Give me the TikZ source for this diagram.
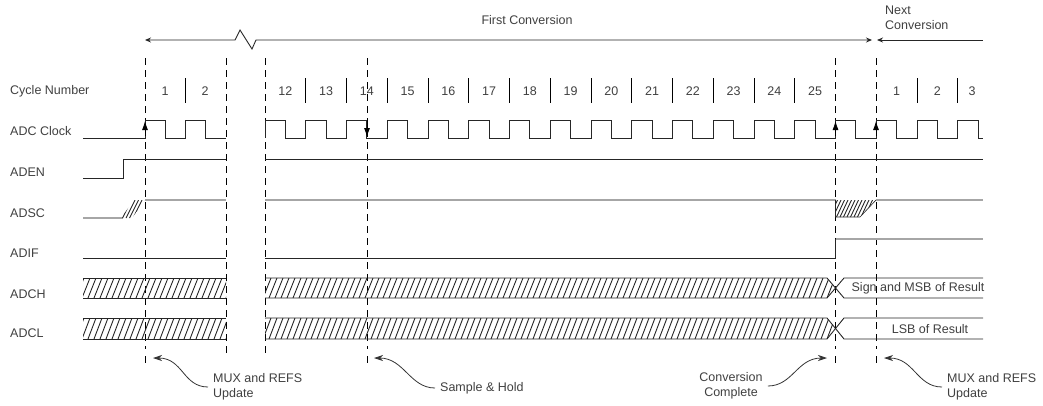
\documentclass[tikz,border=0pt]{standalone}
\usepackage{fontspec}
\setmainfont{Liberation Sans}
\usetikzlibrary{arrows.meta}

\tikzset{
  lbl/.style={anchor=west, inner sep=0pt, text=black!75},
  num/.style={inner sep=0pt, text=black!75},
  sig/.style={line width=0.9pt, black!85},
  graysig/.style={line width=1.4pt, black!35},
  guide/.style={dash pattern=on 7pt off 5pt, line width=0.9pt},
  tick/.style={line width=1pt},
  hatch/.style={line width=0.9pt, black!85},
  note/.style={-{Stealth[length=9pt,width=6pt]}, line width=0.8pt, black!80, shorten <=5pt},
}

\begin{document}
\begin{tikzpicture}[x=1pt, y=-1pt, every node/.style={font=\fontsize{12.5}{15}\selectfont}]
\useasboundingbox (0,0) rectangle (1043,405);

% row labels
\node[lbl] (cycle) at (10,91) {Cycle Number};
\node[lbl] (clk)   at (10,131) {ADC Clock};
\node[lbl] (aden)  at (10,172) {ADEN};
\node[lbl] (adsc)  at (10,213) {ADSC};
\node[lbl] (adif)  at (10,253) {ADIF};
\node[lbl] (adch)  at (10,294) {ADCH};
\node[lbl] (adcl)  at (10,333) {ADCL};

% conversion span
\node[num] (first) at (527,20) {First Conversion};
\node[lbl, align=left] (next) at (885,18) {Next\\Conversion};
\coordinate (fc0) at (145,40);
\coordinate (fc1) at (872,40);
\coordinate (nc0) at (877,40);
\coordinate (nc1) at (983,40);
\draw[sig, {Stealth[length=6pt,width=5pt]}-{Stealth[length=6pt,width=5pt]}]
  (fc0) -- (235,40) -- (240,30) -- (252,49) -- (256,40) -- (fc1);
\draw[sig, {Stealth[length=6pt,width=5pt]}-] (nc0) -- (nc1);

% cycle numbers
\node[num] (a1) at (165,91) {1};
\node[num] (a2) at (205,91) {2};
\foreach \n [count=\k from 0] in {12,...,25}
  \node[num] (c\n) at ({265+40.75*(\k+0.5)},91) {\n};
\node[num] (b1) at ({265+40.75*15.5},91) {1};
\node[num] (b2) at ({265+40.75*16.5},91) {2};
\node[num] (b3) at (972,91) {3};
\draw[tick] (185.5,78) -- ++(0,25);
\foreach \k in {1,...,13,16,17}
  \draw[tick] ({265+40.75*\k},78) -- ++(0,25);

% guide lines
\foreach \x in {145,367,835.5,876} {
  \draw[guide] (\x,58) -- (\x,349);
  \draw[tick] (\x,356) -- (\x,363);
}
\foreach \x in {226,265}
  \draw[guide] (\x,58) -- (\x,356);

% ADC clock
\draw[sig] (83,138) -- (145,138) -- ++(0,-18) -- ++(20,0) -- ++(0,18) -- ++(20.5,0)
  -- ++(0,-18) -- ++(20,0) -- ++(0,18) -- (226,138);
\draw[sig] (265,138) \foreach \k in {1,...,17} { -- ++(0,-18) -- ++(20.375,0) -- ++(0,18) -- ++(20.375,0) }
  -- ++(0,-18) -- ++(20.375,0) -- ++(0,18) -- (983,138);
\foreach \x in {145,835.5,876}
  \draw[-{Latex[length=9pt,width=6pt]}, line width=0.8pt] (\x,136) -- (\x,121);
\draw[-{Latex[length=9pt,width=6pt]}, line width=0.8pt] (367,122) -- (367,137);

% ADEN
\draw[sig] (83,178) -- (123,178) -- (123,159) -- (226,159);
\draw[sig] (265,159) -- (983,159);

% ADSC
\draw[graysig] (83,218) -- (123,218);
\begin{scope}
  \clip (121,218) -- (132,218) -- (145,200) -- (134,200) -- cycle;
  \foreach \h in {112,115.5,...,147} \draw[hatch] (\h,218) -- (\h+9,200);
\end{scope}
\draw[graysig] (145,200) -- (226,200);
\draw[graysig] (265,200) -- (835.5,200);
\begin{scope}
  \clip (835.5,200) -- (835.5,217) -- (860,217) -- (876,200) -- cycle;
  \foreach \h in {826,829.5,...,880} \draw[hatch] (\h,217) -- (\h+8,200);
\end{scope}
\draw[sig, line width=0.6pt] (835.5,200) -- (835.5,217) -- (860,217) -- (876,200);
\draw[graysig] (876,200) -- (983,200);

% ADIF
\draw[sig] (83,258) -- (226,258);
\draw[sig] (265,258) -- (835.5,258) -- (835.5,239);
\draw[graysig] (835.5,239) -- (983,239);

% ADCH and ADCL
\foreach \t/\b in {278/298, 318/339} {
  \begin{scope}
    \clip (83,\t) rectangle (226,\b);
    \foreach \h in {76,82,...,230} \draw[hatch] (\h,\b) -- (\h+8,\t);
  \end{scope}
  \draw[sig] (83,\t) -- (226,\t) (83,\b) -- (226,\b);
  \begin{scope}
    \clip (265,\t) -- (827,\t) -- (835.5,{(\t+\b)/2}) -- (827,\b) -- (265,\b) -- cycle;
    \foreach \h in {257,263,...,838} \draw[hatch] (\h,\b) -- (\h+8,\t);
  \end{scope}
  \draw[sig] (265,\t) -- (827,\t) -- (844,\b) -- (983,\b);
  \draw[sig] (265,\b) -- (827,\b) -- (844,\t) -- (983,\t);
}
\node[num] (msb) at (918,288) {Sign and MSB of Result};
\node[num] (lsb) at (930,329) {LSB of Result};

% event notes
\coordinate (p1) at (153,358);
\coordinate (p2) at (374,358);
\coordinate (p3) at (827,358);
\coordinate (p4) at (884,358);
\node[lbl, align=left] (mux1) at (213,387) {MUX and REFS\\Update};
\node[lbl] (samp) at (440,388) {Sample \& Hold};
\node[num, align=center] (conv) at (731,386) {Conversion\\Complete};
\node[lbl, align=left] (mux2) at (947,387) {MUX and REFS\\Update};
\draw[note] (mux1.west) .. controls +(-30,0) and +(30,0) .. (p1);
\draw[note] (samp.west) .. controls +(-30,0) and +(30,0) .. (p2);
\draw[note] (conv.east) .. controls +(30,0) and +(-30,0) .. (p3);
\draw[note] (mux2.west) .. controls +(-30,0) and +(30,0) .. (p4);
\end{tikzpicture}
\end{document}
